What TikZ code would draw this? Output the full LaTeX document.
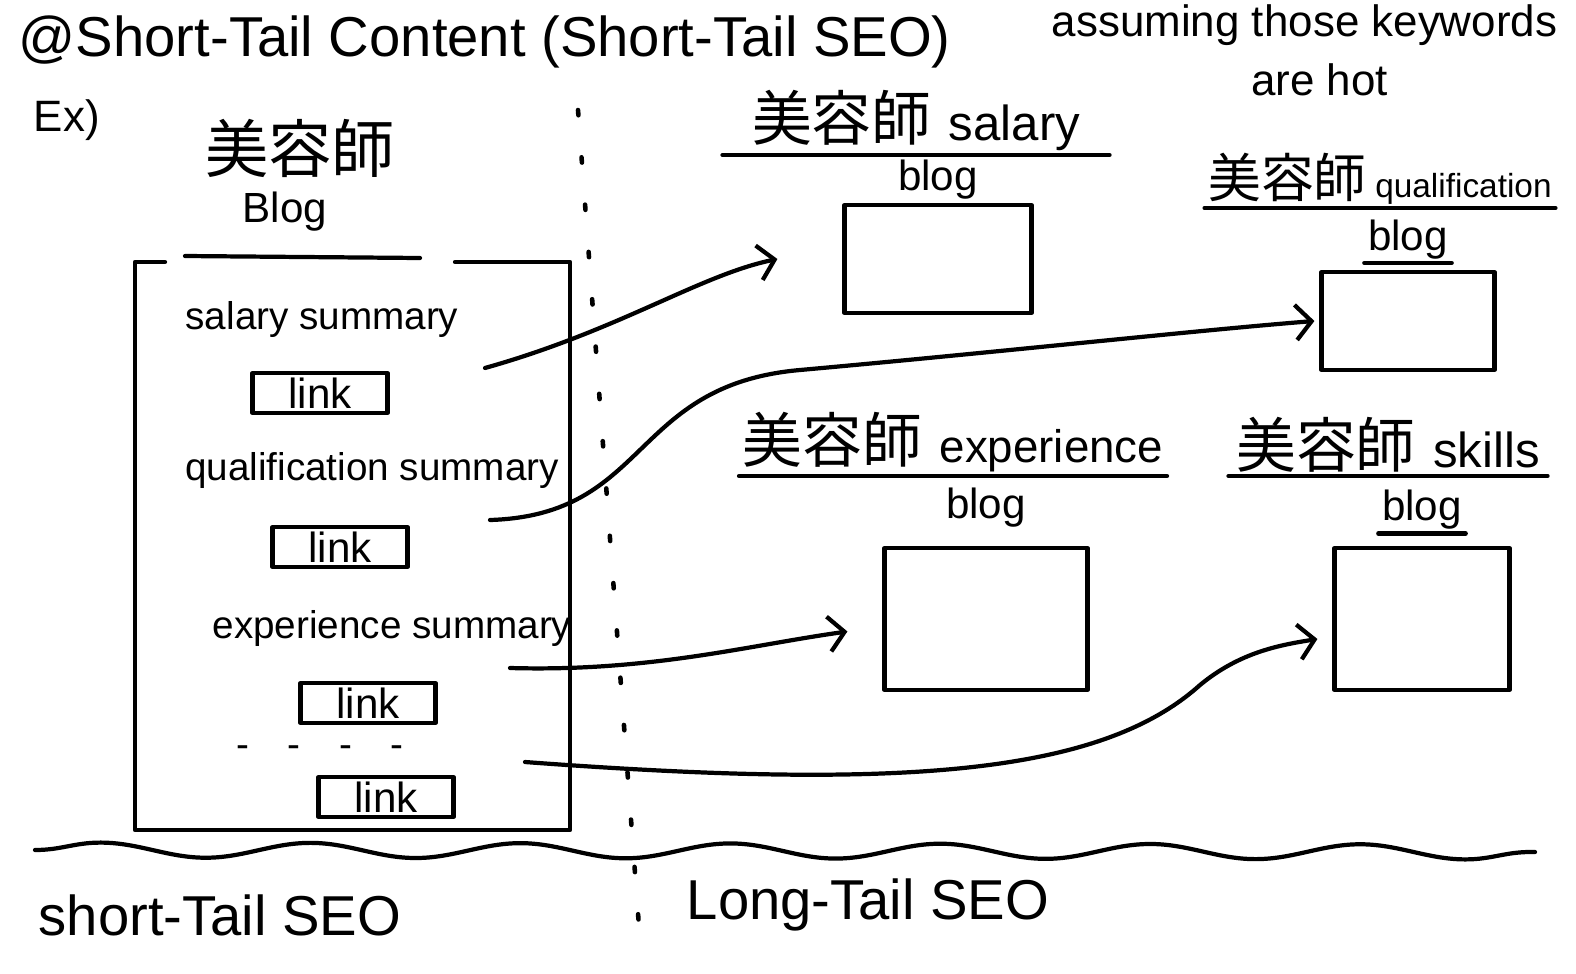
\documentclass[tikz,border=0pt]{standalone}
\usepackage{fontspec}
\setmainfont{Liberation Sans}
\newfontfamily\cjk{Noto Sans CJK JP}
\usetikzlibrary{positioning, arrows.meta, decorations.pathmorphing}

\newcommand{\biyoshi}{{\cjk 美容師}}

\begin{document}
\begin{tikzpicture}[
    x=0.02cm, y=-0.02cm,
    line width=2.4pt, line cap=round, line join=round,
    note/.style={inner sep=1pt, font=\fontsize{25}{29}\selectfont},
    summary/.style={inner sep=1pt, font=\fontsize{22}{26}\selectfont},
    bloglabel/.style={inner sep=1pt, font=\fontsize{24}{28}\selectfont},
    linkbox/.style={rectangle, draw, minimum width=2.7cm, minimum height=0.8cm, inner sep=1pt, font=\fontsize{24}{28}\selectfont},
    blogbox/.style={rectangle, draw},
    arrow/.style={-{Straight Barb[length=9pt, width=20pt, line width=2.4pt]}},
    divider/.style={dash pattern=on 3pt off 24pt, line width=2.6pt}
]
\useasboundingbox (0,0) rectangle (1576,974);

% Title
\node[anchor=west, inner sep=1pt, font=\fontsize{32}{36}\selectfont] (title) at (15,42) {@Short-Tail Content (Short-Tail SEO)};
\node[note, anchor=west] (assume) at (1048,25) {assuming those keywords};
\node[note, below=0.2cm of assume.south, xshift=0.3cm] (hot) {are hot};
\node[note, anchor=west] (ex) at (30,120) {Ex)};

% Short-tail blog
\node[inner sep=1pt, font=\fontsize{36}{40}\selectfont] (shortcjk) at (300,148) {\biyoshi};
\node[bloglabel] (shortblog) at (285,212) {Blog};
\draw (185,256) -- (420,258);
\draw (165,262) -- (135,262) -- (135,830) -- (570,830) -- (570,262) -- (455,262);

\node[summary] (salsum) at (322,320) {salary summary};
\node[linkbox] (link1) at (320,393) {link};
\node[summary] (qualsum) at (372,470) {qualification summary};
\node[linkbox] (link2) at (340,547) {link};
\node[summary] (expsum) at (392,628) {experience summary};
\node[linkbox] (link3) at (368,703) {link};
\node[summary] (more) at (320,752) {-\quad-\quad-\quad-};
\node[linkbox] (link4) at (386,797) {link};

% Divider
\draw[divider] (578,110) -- (640,940);

% Long-tail blogs
\node[blogbox, minimum width=3.74cm, minimum height=2.16cm] (salbox) at (938,259) {};
\node[bloglabel, above=0pt of salbox] (salblog) {blog};
\node[inner sep=1pt, anchor=south, minimum width=7.66cm] (salhead) at (916,155) {{\fontsize{34}{38}\selectfont\biyoshi}\quad{\fontsize{28}{32}\selectfont salary}};
\draw (salhead.south west) -- (salhead.south east);

\node[blogbox, minimum width=3.46cm, minimum height=1.96cm] (qualbox) at (1408,321) {};
\node[bloglabel, above=4pt of qualbox] (qualblog) {blog};
\draw (qualblog.south west) -- (qualblog.south east);
\node[inner sep=1pt, anchor=south, minimum width=5.96cm] (qualhead) at (1380,208) {{\fontsize{30}{34}\selectfont\biyoshi}\enspace{\fontsize{19}{23}\selectfont qualification}};
\draw (qualhead.south west) -- (qualhead.south east);

\node[blogbox, minimum width=4.06cm, minimum height=2.84cm] (expbox) at (986,619) {};
\node[bloglabel, above=0.3cm of expbox] (expblog) {blog};
\node[inner sep=1pt, anchor=south, minimum width=7.4cm] (exphead) at (953,476) {{\fontsize{34}{38}\selectfont\biyoshi}\quad{\fontsize{26}{30}\selectfont experience}};
\draw (exphead.south west) -- (exphead.south east);

\node[blogbox, minimum width=3.5cm, minimum height=2.84cm] (skillbox) at (1422,619) {};
\node[bloglabel, above=0.25cm of skillbox] (skillblog) {blog};
\draw (skillblog.south west) -- (skillblog.south east);
\node[inner sep=1pt, anchor=south, minimum width=6.3cm] (skillhead) at (1388,476) {{\fontsize{34}{38}\selectfont\biyoshi}\quad{\fontsize{28}{32}\selectfont skills}};
\draw (skillhead.south west) -- (skillhead.south east);

% Arrows
\coordinate (s1) at (485,368);
\coordinate (s2) at (490,520);
\coordinate (s3) at (510,668);
\coordinate (s4) at (525,762);
\draw[arrow] (s1) .. controls (620,330) and (700,275) .. ([xshift=-1.3cm]salbox.west);
\draw[arrow] (s2) .. controls (650,515) and (630,385) .. (800,370) .. controls (1000,352) and (1200,330) .. ([xshift=-0.1cm]qualbox.west);
\draw[arrow] (s3) .. controls (650,672) and (750,645) .. ([xshift=-0.7cm, yshift=-0.25cm]expbox.west);
\draw[arrow] (s4) .. controls (900,790) and (1100,775) .. (1200,685) .. controls (1240,652) and (1280,645) .. ([xshift=-0.3cm, yshift=-0.4cm]skillbox.west);

% Baseline
\draw[decorate, decoration={snake, segment length=4.2cm, amplitude=0.15cm}] (35,850) -- (1535,852);
\node[inner sep=1pt, font=\fontsize{32}{36}\selectfont] (shortseo) at (220,915) {short-Tail SEO};
\node[inner sep=1pt, font=\fontsize{32}{36}\selectfont] (longseo) at (868,905) {Long-Tail SEO};

\end{tikzpicture}
\end{document}
